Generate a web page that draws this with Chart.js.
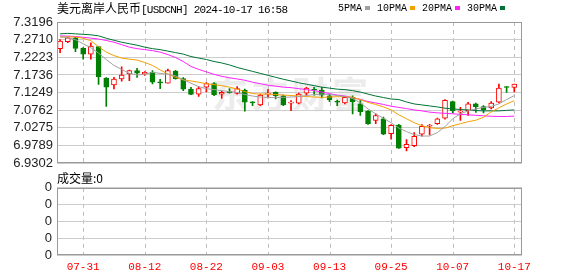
<!DOCTYPE html>
<html>
<head>
<meta charset="utf-8">
<script src="https://cdn.jsdelivr.net/npm/chart.js@4.4.1/dist/chart.umd.min.js"></script>
<style>
  html, body { margin: 0; padding: 0; background: #fff; }
  body { width: 578px; height: 276px; overflow: hidden; position: relative; font-family: "Liberation Sans", Arial, sans-serif; }
  canvas { position: absolute; left: 0; z-index: 1; }
  #main { top: 0; }
  #vol { top: 175px; }
  .txt { position: absolute; z-index: 2; white-space: nowrap; color: #000; }
  #title { left: 57px; top: 1px; font-size: 12px; line-height: 14px; }
  #title .cjk { font-family: "Noto Sans CJK SC", sans-serif; font-size: 12px; }
  #title .mono { font-family: "Liberation Mono", monospace; font-size: 11px; letter-spacing: -0.75px; }
  #legend { left: 338px; top: 2px; font-family: "Liberation Mono", monospace; font-size: 10px; line-height: 13px; }
  #legend span.sw { display: inline-block; width: 5px; height: 4px; margin: 0 7px 1px 3px; vertical-align: middle; }
  #voltitle { left: 57px; top: 170px; font-family: "Noto Sans CJK SC", sans-serif; font-size: 12px; line-height: 16px; }
  #wm { position: absolute; z-index: 0; left: 212px; top: 66px; font-family: "Noto Sans CJK SC", sans-serif; font-weight: bold; font-size: 36px; letter-spacing: 4px; color: #ececec; white-space: nowrap; }
</style>
</head>
<body>
<div id="wm">东方财富</div>
<div class="txt" id="title"><span class="cjk">美元离岸人民币</span><span class="mono">[USDCNH] 2024-10-17 16:58</span></div>
<div class="txt" id="legend"></div>
<div class="txt" id="voltitle">成交量:0</div>
<canvas id="main" width="578" height="175"></canvas>
<canvas id="vol" width="578" height="101"></canvas>
<script>
// ---------------- data ----------------
const categories = ['07-26','07-29','07-30','07-31','08-01','08-02','08-05','08-06','08-07','08-08','08-09','08-12',
  '08-13','08-14','08-15','08-16','08-19','08-20','08-21','08-22','08-23','08-26','08-27','08-28','08-29','08-30',
  '09-02','09-03','09-04','09-05','09-06','09-09','09-10','09-11','09-12','09-13','09-16','09-17','09-18','09-19',
  '09-20','09-23','09-24','09-25','09-26','09-27','09-30','10-01','10-02','10-03','10-04','10-07','10-08','10-09',
  '10-10','10-11','10-14','10-15','10-16','10-17'];

const openValues = [7.2461,7.2651,7.2760,7.2469,7.2306,7.2515,7.1652,7.1461,7.1625,7.1761,7.1854,7.1761,7.1807,7.1527,7.1508,
  7.1843,7.1636,7.1344,7.1208,7.1399,7.1500,7.1208,7.1260,7.1227,7.1317,7.0982,7.0909,7.1208,7.1254,7.1162,
  7.0960,7.0955,7.1236,7.1325,7.1317,7.1162,7.0999,7.0963,7.1118,7.0936,7.0737,7.0481,7.0527,7.0119,7.0356,
  6.9730,6.9784,7.0100,7.0320,7.0391,7.0546,7.0999,7.0710,7.0754,7.0936,7.0863,7.0827,7.0982,7.1395,7.1391];
const closeValues = [7.2670,7.2760,7.2469,7.2306,7.2534,7.1690,7.1399,7.1625,7.1734,7.1854,7.1788,7.1807,7.1535,7.1516,7.1854,
  7.1636,7.1345,7.1200,7.1363,7.1500,7.1189,7.1254,7.1250,7.1363,7.0982,7.0965,7.1181,7.1230,7.1162,7.0909,
  7.0985,7.1208,7.1372,7.1317,7.1181,7.1045,7.0985,7.1118,7.0999,7.0726,7.0391,7.0618,7.0100,7.0345,6.9719,
  6.9820,7.0046,7.0318,7.0345,7.0527,7.1037,7.0754,7.0726,7.0936,7.0863,7.0781,7.0963,7.1372,7.1390,7.1481];
const highValues = [7.2714,7.2779,7.2779,7.2488,7.2624,7.2515,7.1660,7.1671,7.1962,7.1870,7.1916,7.1826,7.1854,7.1617,7.1897,
  7.1862,7.1663,7.1391,7.1418,7.1527,7.1527,7.1282,7.1363,7.1418,7.1344,7.0999,7.1208,7.1335,7.1271,7.1181,
  7.1026,7.1236,7.1391,7.1391,7.1391,7.1208,7.1045,7.1135,7.1162,7.1026,7.0754,7.0664,7.0573,7.0364,7.0372,
  6.9956,7.0146,7.0364,7.0372,7.0546,7.1059,7.1018,7.0846,7.0982,7.0963,7.0890,7.0999,7.1481,7.1418,7.1481];
const lowValues = [7.2352,7.2624,7.2379,7.2169,7.2169,7.1472,7.0868,7.1353,7.1562,7.1581,7.1671,7.1726,7.1489,7.1358,7.1508,
  7.1617,7.1304,7.1189,7.1146,7.1271,7.1162,7.1091,7.1236,7.1208,7.0737,7.0890,7.0890,7.1100,7.1072,7.0890,
  7.0754,7.0936,7.1181,7.1181,7.1100,7.0999,7.0890,7.0936,7.0664,7.0618,7.0372,7.0391,7.0092,6.9964,6.9711,
  6.9643,6.9757,7.0046,7.0080,7.0372,7.0514,7.0691,7.0481,7.0618,7.0705,7.0691,7.0800,7.0963,7.1254,7.1271];

const ma5 = [7.2788,7.2774,7.2706,7.2597,7.2488,7.2338,7.2161,7.1998,7.1889,7.1780,7.1734,7.1753,7.1807,7.1780,7.1753,
  7.1712,7.1603,7.1508,7.1412,7.1358,7.1331,7.1304,7.1276,7.1254,7.1195,7.1154,7.1127,7.1113,7.1113,7.1118,
  7.1127,7.1141,7.1167,7.1195,7.1208,7.1195,7.1167,7.1141,7.1086,7.0963,7.0800,7.0664,7.0541,7.0419,7.0269,
  7.0174,7.0092,7.0051,7.0051,7.0146,7.0310,7.0527,7.0664,7.0745,7.0800,7.0841,7.0868,7.0936,7.1058,7.1167];
const ma10 = [7.2779,7.2788,7.2782,7.2747,7.2679,7.2515,7.2365,7.2270,7.2202,7.2170,7.2148,7.2080,7.1998,7.1875,7.1761,
  7.1671,7.1598,7.1570,7.1535,7.1494,7.1467,7.1440,7.1399,7.1344,7.1276,7.1222,7.1208,7.1208,7.1195,7.1181,
  7.1167,7.1154,7.1141,7.1127,7.1118,7.1127,7.1135,7.1141,7.1118,7.1058,7.0977,7.0922,7.0854,7.0772,7.0636,
  7.0527,7.0419,7.0337,7.0283,7.0261,7.0269,7.0337,7.0391,7.0446,7.0487,7.0568,7.0718,7.0827,7.0936,7.1026];
const ma20 = [7.2815,7.2807,7.2796,7.2774,7.2752,7.2725,7.2687,7.2638,7.2570,7.2502,7.2461,7.2434,7.2406,7.2365,7.2297,
  7.2216,7.2107,7.1971,7.1889,7.1821,7.1753,7.1698,7.1657,7.1625,7.1589,7.1535,7.1494,7.1453,7.1426,7.1399,
  7.1385,7.1358,7.1331,7.1304,7.1263,7.1222,7.1181,7.1154,7.1113,7.1058,7.1004,7.0963,7.0922,7.0873,7.0841,
  7.0808,7.0772,7.0745,7.0710,7.0691,7.0677,7.0664,7.0650,7.0636,7.0623,7.0609,7.0596,7.0590,7.0590,7.0601];
const ma30 = [7.2869,7.2883,7.2869,7.2856,7.2842,7.2815,7.2747,7.2692,7.2638,7.2597,7.2556,7.2502,7.2461,7.2434,7.2393,
  7.2352,7.2311,7.2243,7.2202,7.2161,7.2107,7.2066,7.2012,7.1943,7.1889,7.1834,7.1780,7.1726,7.1671,7.1617,
  7.1570,7.1521,7.1480,7.1440,7.1399,7.1372,7.1344,7.1331,7.1304,7.1263,7.1208,7.1154,7.1113,7.1072,7.1058,
  7.0990,7.0936,7.0909,7.0882,7.0854,7.0819,7.0800,7.0781,7.0772,7.0754,7.0745,7.0745,7.0745,7.0759,7.0772];

const yTickValues = [7.3196, 7.2710, 7.2223, 7.1736, 7.1249, 7.0762, 7.0275, 6.9789, 6.9302];
const yTickLabels = ['7.3196','7.2710','7.2223','7.1736','7.1249','7.0762','7.0275','6.9789','6.9302'];
const xTickDates = ['07-31','08-12','08-22','09-03','09-13','09-25','10-07','10-17'];
const volTickValues = [0, 1, 2, 3, 4];
const volTickLabels = ['0','0','0','0','0'];

const maNames = ['5PMA','10PMA','20PMA','30PMA'];
const maColors = ['#a0a0a0','#f5a000','#ff22ff','#007236'];

// ---------------- styling ----------------
const UP = '#ff0000', DOWN = '#008000';
const X_MIN = -0.4, X_MAX = 60;
const xTickIdx = xTickDates.map(d => categories.indexOf(d));

document.getElementById('legend').innerHTML = maNames.map((n, i) =>
  n + '<span class="sw" style="background:' + maColors[i] + '"></span>').join('');

const isUp = categories.map((_, i) => closeValues[i] >= openValues[i]);

// frame around plot area + dashed vertical grid at the x tick positions (behind the marks)
const framePlugin = {
  id: 'frame',
  afterDraw(chart) {
    const xs = chart.scales.x, a = chart.chartArea, ctx = chart.ctx;
    ctx.save();
    ctx.globalCompositeOperation = 'destination-over';
    ctx.strokeStyle = '#bdbdbd';
    ctx.lineWidth = 1;
    ctx.setLineDash([4, 4]);
    xTickIdx.forEach(v => {
      const px = Math.round(xs.getPixelForValue(v)) + 0.5;
      ctx.beginPath(); ctx.moveTo(px, a.top); ctx.lineTo(px, a.bottom); ctx.stroke();
    });
    ctx.restore();
    ctx.save();
    ctx.setLineDash([]);
    ctx.strokeStyle = '#999999';
    ctx.lineWidth = 1;
    ctx.strokeRect(Math.round(a.left) + 0.5, Math.round(a.top) + 0.5, Math.round(a.right - a.left) - 1, Math.round(a.bottom - a.top) - 1);
    ctx.restore();
  }
};

Chart.defaults.font.family = '"Liberation Sans", Arial, sans-serif';

function xScale(showLabels, height) {
  return {
    type: 'linear', min: X_MIN, max: X_MAX, offset: false,
    afterBuildTicks(s) { s.ticks = xTickIdx.map(v => ({ value: v })); },
    afterFit(s) { s.height = height; },
    grid: { display: false, drawTicks: false, offset: false },
    border: { display: false },
    ticks: {
      display: showLabels, autoSkip: false, maxRotation: 0, padding: 5,
      color: '#ff0000', font: { family: '"Liberation Mono", monospace', size: 11 },
      callback: (v) => categories[v]
    }
  };
}

const lineSets = [ma5, ma10, ma20, ma30].map((arr, k) => ({
  type: 'line', label: maNames[k],
  data: arr.map((v, i) => ({ x: i, y: v })),
  borderColor: maColors[k], borderWidth: 1, pointRadius: 0, tension: 0, fill: false
}));

new Chart(document.getElementById('main'), {
  type: 'bar',
  data: {
    datasets: [
      ...lineSets,
      {
        type: 'bar', label: 'body',
        data: categories.map((c, i) => ({ x: i, y: [openValues[i], closeValues[i]] })),
        backgroundColor: isUp.map(u => u ? '#ffffff' : DOWN),
        borderColor: isUp.map(u => u ? UP : DOWN),
        borderWidth: 1, borderSkipped: false, barThickness: 5, minBarLength: 1, grouped: false
      },
      {
        type: 'bar', label: 'wick',
        data: categories.map((c, i) => ({ x: i, y: [lowValues[i], highValues[i]] })),
        backgroundColor: isUp.map(u => u ? UP : DOWN),
        borderWidth: 0, barThickness: 1, grouped: false
      }
    ]
  },
  options: {
    responsive: false, animation: false, events: [],
    layout: { padding: { left: 0, right: 56, top: 22, bottom: 10 } },
    plugins: { legend: { display: false }, tooltip: { enabled: false } },
    scales: {
      x: xScale(false, 0),
      y: {
        type: 'linear', min: yTickValues[yTickValues.length - 1], max: yTickValues[0],
        afterBuildTicks(s) { s.ticks = yTickValues.map(v => ({ value: v })); },
        afterFit(s) { s.width = 57; },
        grid: { color: '#cccccc', lineWidth: 1, drawTicks: false },
        border: { display: false },
        ticks: {
          autoSkip: false, padding: 4, color: '#222222', font: { size: 13 },
          callback: (v, idx) => yTickLabels[idx]
        }
      }
    }
  },
  plugins: [framePlugin]
});

new Chart(document.getElementById('vol'), {
  type: 'bar',
  data: { datasets: [] },
  options: {
    responsive: false, animation: false, events: [],
    layout: { padding: { left: 0, right: 56, top: 11, bottom: 0 } },
    plugins: { legend: { display: false }, tooltip: { enabled: false } },
    scales: {
      x: xScale(true, 21),
      y: {
        type: 'linear', min: volTickValues[0], max: volTickValues[volTickValues.length - 1],
        afterBuildTicks(s) { s.ticks = volTickValues.map(v => ({ value: v })); },
        afterFit(s) { s.width = 57; },
        grid: { color: '#cccccc', lineWidth: 1, drawTicks: false },
        border: { display: false },
        ticks: { autoSkip: false, padding: 5, color: '#222222', font: { size: 13 }, callback: (v, idx) => volTickLabels[idx] }
      }
    }
  },
  plugins: [framePlugin]
});
</script>
</body>
</html>
